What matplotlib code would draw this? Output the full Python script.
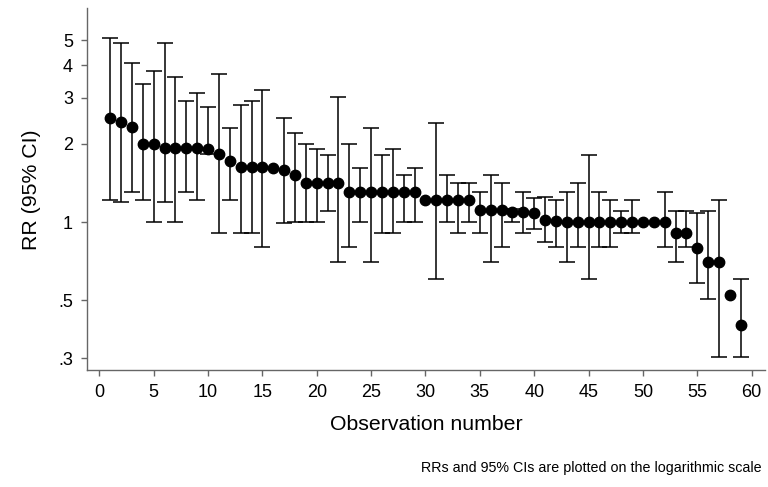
import numpy as np
import matplotlib
matplotlib.use('Agg')
import matplotlib.pyplot as plt
from matplotlib.ticker import FixedLocator, FixedFormatter, NullLocator

plt.rcParams['font.family'] = ['Liberation Sans', 'DejaVu Sans']

nan = np.nan

# relative risks per observation
rr = [2.51, 2.42, 2.31, 2.0, 2.0, 1.92, 1.92, 1.92, 1.92, 1.91,
      1.82, 1.71, 1.62, 1.62, 1.62, 1.61, 1.58, 1.51, 1.41, 1.41,
      1.41, 1.41, 1.31, 1.31, 1.31, 1.31, 1.31, 1.31, 1.31, 1.22,
      1.21, 1.21, 1.21, 1.21, 1.11, 1.11, 1.11, 1.09, 1.09, 1.08,
      1.02, 1.01, 1.0, 1.0, 1.0, 1.0, 1.0, 1.0, 1.0, 1.0,
      1.0, 1.0, 0.908, 0.908, 0.798, 0.70, 0.70, 0.526, 0.404]

ci_low = [1.21, 1.195, 1.31, 1.21, 1.0, 1.19, 1.0, 1.31, 1.21, 1.82,
          0.908, 1.21, 0.908, 0.908, 0.805, nan, 0.99, 1.0, 1.0, 1.0,
          1.10, 0.70, 0.805, 1.0, 0.70, 0.908, 0.908, 1.0, 1.0, nan,
          0.606, 1.0, 0.908, 1.0, 0.908, 0.70, 0.805, 1.0, 0.908, 0.938,
          0.841, 0.805, 0.70, 0.805, 0.606, 0.805, 0.805, 0.905, 0.905, nan,
          nan, 0.805, 0.70, 0.805, 0.585, 0.505, 0.303, nan, 0.303]

ci_high = [5.11, 4.88, 4.09, 3.40, 3.80, 4.88, 3.60, 2.91, 3.12, 2.77,
           3.70, 2.30, 2.81, 2.91, 3.21, nan, 2.52, 2.20, 2.0, 1.90,
           1.81, 3.01, 2.0, 1.61, 2.30, 1.81, 1.90, 1.51, 1.61, nan,
           2.41, 1.51, 1.41, 1.41, 1.31, 1.51, 1.41, 1.12, 1.31, 1.235,
           1.25, 1.21, 1.31, 1.41, 1.81, 1.31, 1.21, 1.10, 1.21, nan,
           nan, 1.31, 1.10, 1.10, 1.085, 1.10, 1.21, nan, 0.604]

y_ticks = [0.3, 0.5, 1, 2, 3, 4, 5]
y_tick_labels = ['.3', '.5', '1', '2', '3', '4', '5']
x_ticks = [0, 5, 10, 15, 20, 25, 30, 35, 40, 45, 50, 55, 60]

obs = np.arange(1, len(rr) + 1)
rr = np.array(rr)
lo = np.array(ci_low)
hi = np.array(ci_high)
has_ci = ~np.isnan(lo)

figure = plt.figure(figsize=(7.68, 4.87), dpi=100)
axes = figure.add_axes([0.1137, 0.240, 0.882, 0.743])

axes.errorbar(obs[has_ci], rr[has_ci],
              yerr=[rr[has_ci] - lo[has_ci], hi[has_ci] - rr[has_ci]],
              fmt='none', ecolor='black', elinewidth=1.1, capsize=5.5,
              capthick=1.1, zorder=2)
axes.plot(obs, rr, 'o', color='black', markersize=7.5, zorder=3)

axes.set_yscale('log')
axes.set_ylim(0.270, 6.62)
axes.set_xlim(-1.1, 61.2)
axes.yaxis.set_major_locator(FixedLocator(y_ticks))
axes.yaxis.set_major_formatter(FixedFormatter(y_tick_labels))
axes.yaxis.set_minor_locator(NullLocator())
axes.set_xticks(x_ticks)

for side in ['top', 'right']:
    axes.spines[side].set_visible(False)
for side in ['left', 'bottom']:
    axes.spines[side].set_color('#666666')
    axes.spines[side].set_linewidth(1.0)

axes.tick_params(axis='both', direction='out', length=4.3, width=1.0,
                 color='#666666', labelsize=13, labelcolor='black', pad=6)

axes.set_xlabel('Observation number', fontsize=15.3, labelpad=10)
axes.set_ylabel('RR (95% CI)', fontsize=15.3, labelpad=12)

figure.text(0.992, 0.040, 'RRs and 95% CIs are plotted on the logarithmic scale',
            ha='right', va='center', fontsize=10.3)

figure.savefig('out.png', dpi=100)
